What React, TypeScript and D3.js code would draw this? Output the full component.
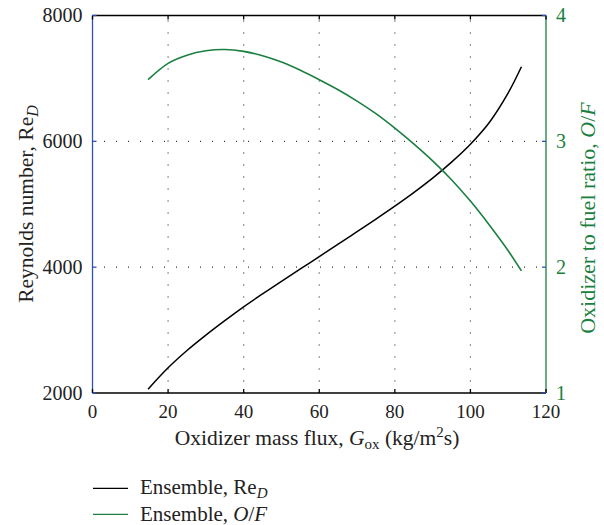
import React from "react";
import * as d3 from "d3";

const reX = [14.7, 20, 25, 30, 35, 40, 45, 50, 55, 60, 65, 70, 75, 80, 85, 90, 95, 100, 105, 110, 113.5];
const reVals = [2060, 2400, 2675, 2920, 3150, 3370, 3575, 3775, 3972, 4168, 4365, 4565, 4765, 4970, 5185, 5415, 5670, 5955, 6300, 6770, 7185];

const ofX = [14.7, 20, 25, 30, 35, 40, 45, 50, 55, 60, 65, 70, 75, 80, 85, 90, 95, 100, 105, 110, 113.5];
const ofVals = [3.49, 3.62, 3.685, 3.72, 3.73, 3.715, 3.68, 3.63, 3.565, 3.49, 3.41, 3.32, 3.22, 3.105, 2.98, 2.845, 2.695, 2.525, 2.335, 2.13, 1.97];

const xTicks = [0, 20, 40, 60, 80, 100, 120];
const leftTicks = [2000, 4000, 6000, 8000];
const rightTicks = [1, 2, 3, 4];

const GREEN = "#1a8040";
const BLUE = "#3050c0";
const FONT = "Liberation Serif, Times New Roman, serif";

export default function App() {
  const L = 92.5, R = 546, T = 15.5, B = 393;
  const x = d3.scaleLinear().domain([0, 120]).range([L, R]);
  const yL = d3.scaleLinear().domain([2000, 8000]).range([B, T]);
  const yR = d3.scaleLinear().domain([1, 4]).range([B, T]);

  const reLine = d3.line<number>().x((_, i) => x(reX[i])).y((d) => yL(d)).curve(d3.curveCatmullRom.alpha(0.5));
  const ofLine = d3.line<number>().x((_, i) => x(ofX[i])).y((d) => yR(d)).curve(d3.curveCatmullRom.alpha(0.5));

  const gridX = [20, 40, 60, 80, 100];
  const gridY = [4000, 6000];
  const tk = 4;

  return (
    <svg width={604} height={525} style={{ position: "absolute", left: 0, top: 0, background: "#fff", fontFamily: FONT }}>
      <rect x={0} y={0} width={604} height={525} fill="#fff" />
      {gridX.map((g) => (
        <line key={"gx" + g} x1={x(g)} x2={x(g)} y1={B} y2={T} stroke="#333" strokeWidth={1.2} strokeDasharray="1 11" strokeDashoffset={0.5} />
      ))}
      {gridY.map((g) => (
        <line key={"gy" + g} x1={L} x2={R} y1={yL(g)} y2={yL(g)} stroke="#333" strokeWidth={1.2} strokeDasharray="1 11" strokeDashoffset={0.5} />
      ))}
      <path d={reLine(reVals) || ""} fill="none" stroke="#000" strokeWidth={1.5} />
      <path d={ofLine(ofVals) || ""} fill="none" stroke={GREEN} strokeWidth={1.6} />
      <line x1={L} x2={R} y1={T} y2={T} stroke="#000" strokeWidth={1.3} />
      <line x1={L} x2={R} y1={B} y2={B} stroke="#000" strokeWidth={1.3} />
      <line x1={L} x2={L} y1={T} y2={B} stroke={BLUE} strokeWidth={1.3} />
      <line x1={R} x2={R} y1={T} y2={B} stroke={GREEN} strokeWidth={1.3} />
      {xTicks.map((t) => (
        <g key={"xt" + t}>
          <line x1={x(t)} x2={x(t)} y1={B} y2={B - tk} stroke="#000" strokeWidth={1.3} />
          <line x1={x(t)} x2={x(t)} y1={T} y2={T + tk} stroke="#000" strokeWidth={1.3} />
          <text x={x(t)} y={B + 25} textAnchor="middle" fontSize={19} fill="#222">{t}</text>
        </g>
      ))}
      {leftTicks.map((t) => (
        <g key={"lt" + t}>
          <line x1={L} x2={L + tk} y1={yL(t)} y2={yL(t)} stroke={BLUE} strokeWidth={1.3} />
          <text x={L - 10} y={yL(t) + 6.5} textAnchor="end" fontSize={20} fill="#222">{t}</text>
        </g>
      ))}
      {rightTicks.map((t) => (
        <g key={"rt" + t}>
          <line x1={R} x2={R - tk} y1={yR(t)} y2={yR(t)} stroke={BLUE} strokeWidth={1.3} />
          <text x={R + 10} y={yR(t) + 6.5} textAnchor="start" fontSize={20} fill={GREEN}>{t}</text>
        </g>
      ))}
      <text x={317} y={445} textAnchor="middle" fontSize={21.5} fill="#222">
        Oxidizer mass flux, <tspan fontStyle="italic">G</tspan>
        <tspan fontSize={15} dy={4}>ox</tspan>
        <tspan dy={-4}> (kg/m</tspan>
        <tspan fontSize={15} dy={-8}>2</tspan>
        <tspan dy={8}>s)</tspan>
      </text>
      <text transform="translate(33,204) rotate(-90)" textAnchor="middle" fontSize={21.5} fill="#222">
        Reynolds number, Re<tspan fontSize={16} fontStyle="italic" dy={5}>D</tspan>
      </text>
      <text transform="translate(595,218) rotate(-90)" textAnchor="middle" fontSize={22} fill={GREEN}>
        Oxidizer to fuel ratio, <tspan fontStyle="italic">O</tspan>/<tspan fontStyle="italic">F</tspan>
      </text>
      <line x1={93} x2={128} y1={488.3} y2={488.3} stroke="#000" strokeWidth={1.3} />
      <text x={140} y={494} fontSize={21} fill="#222">
        Ensemble, Re<tspan fontSize={15} fontStyle="italic" dy={4}>D</tspan>
      </text>
      <line x1={93} x2={128} y1={514.3} y2={514.3} stroke={GREEN} strokeWidth={1.3} />
      <text x={140} y={521} fontSize={21} fill="#222">
        Ensemble, <tspan fontStyle="italic">O</tspan>/<tspan fontStyle="italic">F</tspan>
      </text>
    </svg>
  );
}
